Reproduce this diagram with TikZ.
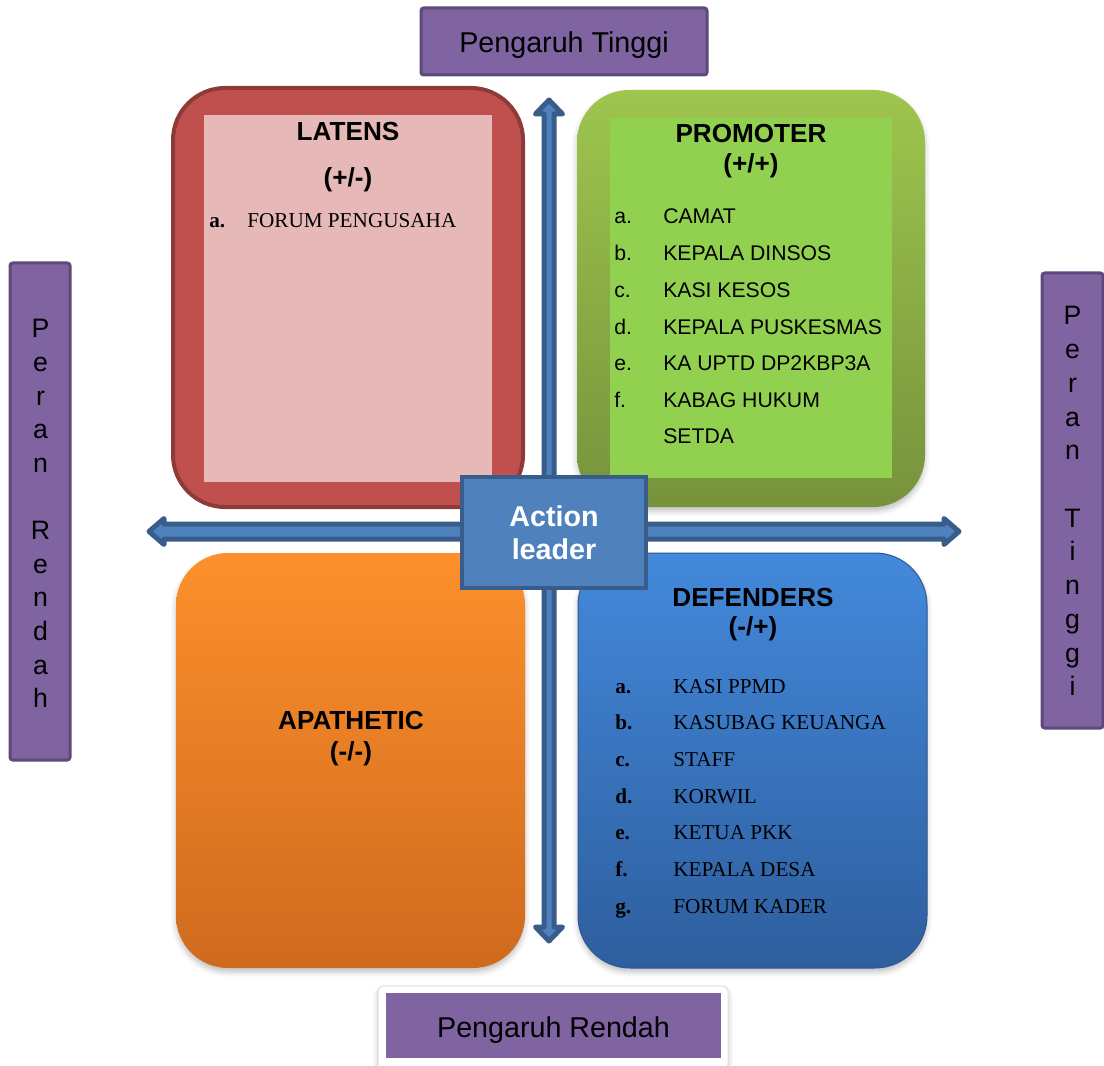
\documentclass[tikz,border=0pt]{standalone}
\usepackage{fontspec}
\setmainfont{Liberation Serif}
\setsansfont{Liberation Sans}
\usetikzlibrary{shadows.blur}
\definecolor{purfill}{HTML}{8064A2}
\definecolor{purdark}{HTML}{5C4A7A}
\definecolor{latred}{HTML}{C0504D}
\definecolor{latdark}{HTML}{8E3A38}
\definecolor{latpink}{HTML}{E6B8B7}
\definecolor{protop}{HTML}{9EC54E}
\definecolor{probot}{HTML}{76933C}
\definecolor{proin}{HTML}{92D050}
\definecolor{apatop}{HTML}{FD902C}
\definecolor{apabot}{HTML}{CF6A1E}
\definecolor{deftop}{HTML}{4389DB}
\definecolor{defbot}{HTML}{2E5E9E}
\definecolor{defdark}{HTML}{2F5690}
\definecolor{actfill}{HTML}{4F81BD}
\definecolor{actdark}{HTML}{385D8A}
\begin{document}
\begin{tikzpicture}[x=0.75pt,y=-0.75pt,
  purbox/.style={fill=purfill,draw=purdark,line width=2.25pt,rounded corners=2pt},
  bigbox/.style={rounded corners=39pt},
  softshadow/.style={blur shadow={shadow xshift=0pt,shadow yshift=-3pt,shadow blur radius=4pt,shadow opacity=25}},
  ptxt/.style={font=\sffamily\fontsize{21.5}{25}\selectfont,anchor=base,inner sep=0pt},
  vlet/.style={font=\sffamily\fontsize{20}{24}\selectfont,anchor=base,inner sep=0pt},
  ttl/.style={font=\sffamily\bfseries\fontsize{19.6}{23}\selectfont,anchor=base,inner sep=0pt},
  lsans/.style={font=\sffamily\fontsize{15.9}{19}\selectfont,anchor=base west,inner sep=0pt},
  lserifb/.style={font=\rmfamily\bfseries\fontsize{15.9}{19}\selectfont,anchor=base west,inner sep=0pt},
  lserif/.style={font=\rmfamily\fontsize{15.9}{19}\selectfont,anchor=base west,inner sep=0pt},
  acttxt/.style={font=\sffamily\bfseries\fontsize{21.5}{25}\selectfont,text=white,anchor=base,inner sep=0pt},
  arrowshape/.style={fill=actfill,draw=actdark,line width=3.75pt,line join=round}
]
\useasboundingbox (0,0) rectangle (1104,1066);

% ---------- outer labels ----------
\draw[purbox] (421,8) rectangle (707,75);
\node[ptxt] (pt) at (564,53) {Pengaruh Tinggi};

\draw[fill=white,draw=black!12,line width=0.75pt,rounded corners=4pt,softshadow] (378,986) rectangle (728,1070);
\fill[purfill] (386,993) rectangle (721,1058);
\node[ptxt] (pr) at (553.5,1037) {Pengaruh Rendah};

\draw[purbox] (10,263) rectangle (70,760);
\foreach \ch [count=\i from 0] in {P,e,r,a,n}
  \node[vlet] (lra\i) at (40.5,338+33.6*\i) {\ch};
\foreach \ch [count=\i from 6] in {R,e,n,d,a,h}
  \node[vlet] (lrb\i) at (40.5,338+33.6*\i) {\ch};

\draw[purbox] (1042,273) rectangle (1103,728);
\foreach \ch [count=\i from 0] in {P,e,r,a,n}
  \node[vlet] (rta\i) at (1072.5,325+33.7*\i) {\ch};
\foreach \ch [count=\i from 6] in {T,i,n,g,g,i}
  \node[vlet] (rtb\i) at (1072.5,325+33.7*\i) {\ch};

% ---------- LATENS ----------
\draw[bigbox,fill=latred,draw=latdark,line width=3pt] (173,88) rectangle (523,507);
\fill[latpink] (204,115) rectangle (492,482);
\node[ttl] (latT) at (348,141) {LATENS};
\node[ttl] (latS) at (348,187) {(+/-)};
\node[lserifb] (la) at (209,228) {a.};
\node[lserif] (lat) at (247,228) {FORUM PENGUSAHA};

% ---------- PROMOTER ----------
\shade[bigbox,top color=protop,bottom color=probot,softshadow] (577,90) rectangle (925,507);
\fill[proin] (610,118) rectangle (892,478);
\node[ttl] (proT) at (751,143) {PROMOTER};
\node[ttl] (proS) at (751,173) {(+/+)};
\foreach \l/\t [count=\i from 0] in {a./CAMAT,b./KEPALA DINSOS,c./KASI KESOS,d./KEPALA PUSKESMAS,e./KA UPTD DP2KBP3A,f./KABAG HUKUM}{
  \node[lsans] (pl\i) at (614,224+36.7*\i) {\l};
  \node[lsans] (pt\i) at (663,224+36.7*\i) {\t};
}
\node[lsans] (pt6) at (663,444) {SETDA};

% ---------- APATHETIC ----------
\shade[bigbox,top color=apatop,bottom color=apabot,softshadow] (176,553) rectangle (525,968);
\node[ttl] (apaT) at (351,729) {APATHETIC};
\node[ttl] (apaS) at (351,760.5) {(-/-)};

% ---------- DEFENDERS ----------
\shade[bigbox,top color=deftop,bottom color=defbot,draw=defdark,line width=0.75pt,softshadow] (578,553) rectangle (927,968);
\node[ttl] (defT) at (753,606) {DEFENDERS};
\node[ttl] (defS) at (753,635.5) {(-/+)};
\foreach \l/\t [count=\i from 0] in {a./KASI PPMD,b./KASUBAG KEUANGA,c./STAFF,d./KORWIL,e./KETUA PKK,f./KEPALA DESA,g./FORUM KADER}{
  \node[lserifb] (dl\i) at (615,693+36.7*\i) {\l};
  \node[lserif] (dt\i) at (673,693+36.7*\i) {\t};
}

% ---------- axes arrows ----------
\draw[arrowshape] (149,531.5) -- (164,518.5) -- (164,524) -- (944,524) -- (944,518.5)
  -- (959,531.5) -- (944,544.5) -- (944,539) -- (164,539) -- (164,544.5) -- cycle;
\draw[arrowshape] (549,100) -- (562.5,114) -- (554,114) -- (554,927) -- (562.5,927)
  -- (549,941) -- (535.5,927) -- (544,927) -- (544,114) -- (535.5,114) -- cycle;

% ---------- Action leader ----------
\draw[fill=actfill,draw=actdark,line width=3pt] (462,477) rectangle (646,588);
\node[acttxt] (act1) at (554,526) {Action};
\node[acttxt] (act2) at (554,559) {leader};
\end{tikzpicture}
\end{document}
